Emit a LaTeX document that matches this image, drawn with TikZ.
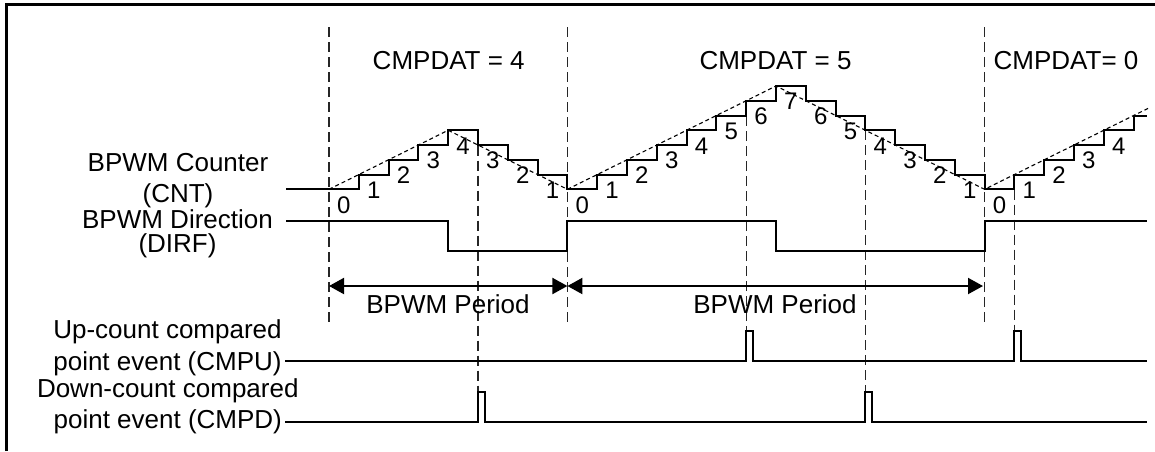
\documentclass[tikz,border=0pt]{standalone}
\usepackage{fontspec}
\setmainfont{Liberation Sans}
\usetikzlibrary{arrows.meta}
\begin{document}
\begin{tikzpicture}[x=1pt,y=-1pt,
  sig/.style={line width=2pt, line join=miter},
  guide/.style={line width=1.2pt, dash pattern=on 10pt off 5pt, black!85},
  ramp/.style={line width=1.1pt, dash pattern=on 4pt off 3pt},
  period/.style={line width=2pt, {Triangle[length=15pt,width=16pt]}-{Triangle[length=15pt,width=16pt]}},
  lab/.style={font=\fontsize{26}{31}\selectfont, inner sep=0pt},
  num/.style={font=\fontsize{24}{28}\selectfont, inner sep=0pt}
]
\useasboundingbox (0,0) rectangle (1155,451);
\fill[white] (0,0) rectangle (1155,451);
% frame
\draw[line width=3pt] (6.5,451) -- (6.5,4.5) -- (1155,4.5);

% period guide lines
\draw[guide] (329,27) -- (329,324);
\draw[guide] (567.4,27) -- (567.4,324);
\draw[guide] (984.6,27) -- (984.6,324);
% compare guide lines
\draw[guide] (478,145.5) -- (478,391.7);
\draw[guide] (746.2,101) -- (746.2,331);
\draw[guide] (865.4,130.3) -- (865.4,391.7);
\draw[guide] (1014.4,174.5) -- (1014.4,331);

% CMPDAT labels
\node[lab, anchor=base] (c4) at (448.7,69.3) {CMPDAT = 4};
\node[lab, anchor=base] (c5) at (775.5,69.3) {CMPDAT = 5};
\node[lab, anchor=base] (c0) at (1066,69.3) {CMPDAT= 0};

% counter ramp (dashed)
\draw[ramp] (329,189.3) -- (448.2,130.26) -- (567.4,189.3) -- (776,85.98) -- (984.6,189.3) -- (1148,108.4);

% counter staircase
\draw[sig] (286,189.3)
  \foreach \n/\k in {1/1,2/2,3/3,4/4,5/3,6/2,7/1,8/0,9/1,10/2,11/3,12/4,13/5,14/6,15/7,16/6,17/5,18/4,19/3,20/2,21/1,22/0,23/1,24/2,25/3,26/4,27/5}
  { -| ({329+29.8*\n},{189.3-14.76*\k}) } -- (1147,{189.3-14.76*5});

% counter values
\foreach \n/\k in {0/0,1/1,2/2,3/3,4/4,5/3,6/2,7/1,8/0,9/1,10/2,11/3,12/4,13/5,14/6,15/7,16/6,17/5,18/4,19/3,20/2,21/1,22/0,23/1,24/2,25/3,26/4}
  \node[num] (d\n) at ({329+29.8*(\n+0.5)},{205-14.76*\k}) {\k};

% direction
\draw[sig] (286,220.5) -- (448.2,220.5) -- (448.2,250.7) -- (567.4,250.7) -- (567.4,220.5)
  -- (776,220.5) -- (776,250.7) -- (984.6,250.7) -- (984.6,220.5) -- (1147,220.5);

% period arrows
\coordinate (a0) at (329,286);
\coordinate (a1) at (567.4,286);
\coordinate (a2) at (983,286);
\draw[period] (a0) -- (a1);
\draw[period] (a1) -- (a2);
\node[lab, anchor=base] (per1) at (448,313.3) {BPWM Period};
\node[lab, anchor=base] (per2) at (775,313.3) {BPWM Period};

% event signals
\draw[sig] (285,361) -| (746.2,331) -| (753.2,361) -| (1014.4,331) -| (1021.4,361) -- (1147,361);
\draw[sig] (285,421.7) -| (478,391.7) -| (485,421.7) -| (865.4,391.7) -| (872.4,421.7) -- (1147,421.7);

% signal names
\node[lab, anchor=north, align=center, font=\fontsize{26}{30.4}\selectfont] (cntlab) at (178,153.5) {BPWM Counter\\(CNT)};
\node[lab, anchor=north, align=center, font=\fontsize{26}{24}\selectfont] (dirlab) at (177.5,209) {BPWM Direction\\(DIRF)};
\node[lab, anchor=north, align=center, font=\fontsize{26}{31.7}\selectfont] (cmpulab) at (167.5,319.5) {Up-count compared\\point event (CMPU)};
\node[lab, anchor=north, align=center] (cmpdlab) at (167.8,378.5) {Down-count compared\\point event (CMPD)};
\end{tikzpicture}
\end{document}
